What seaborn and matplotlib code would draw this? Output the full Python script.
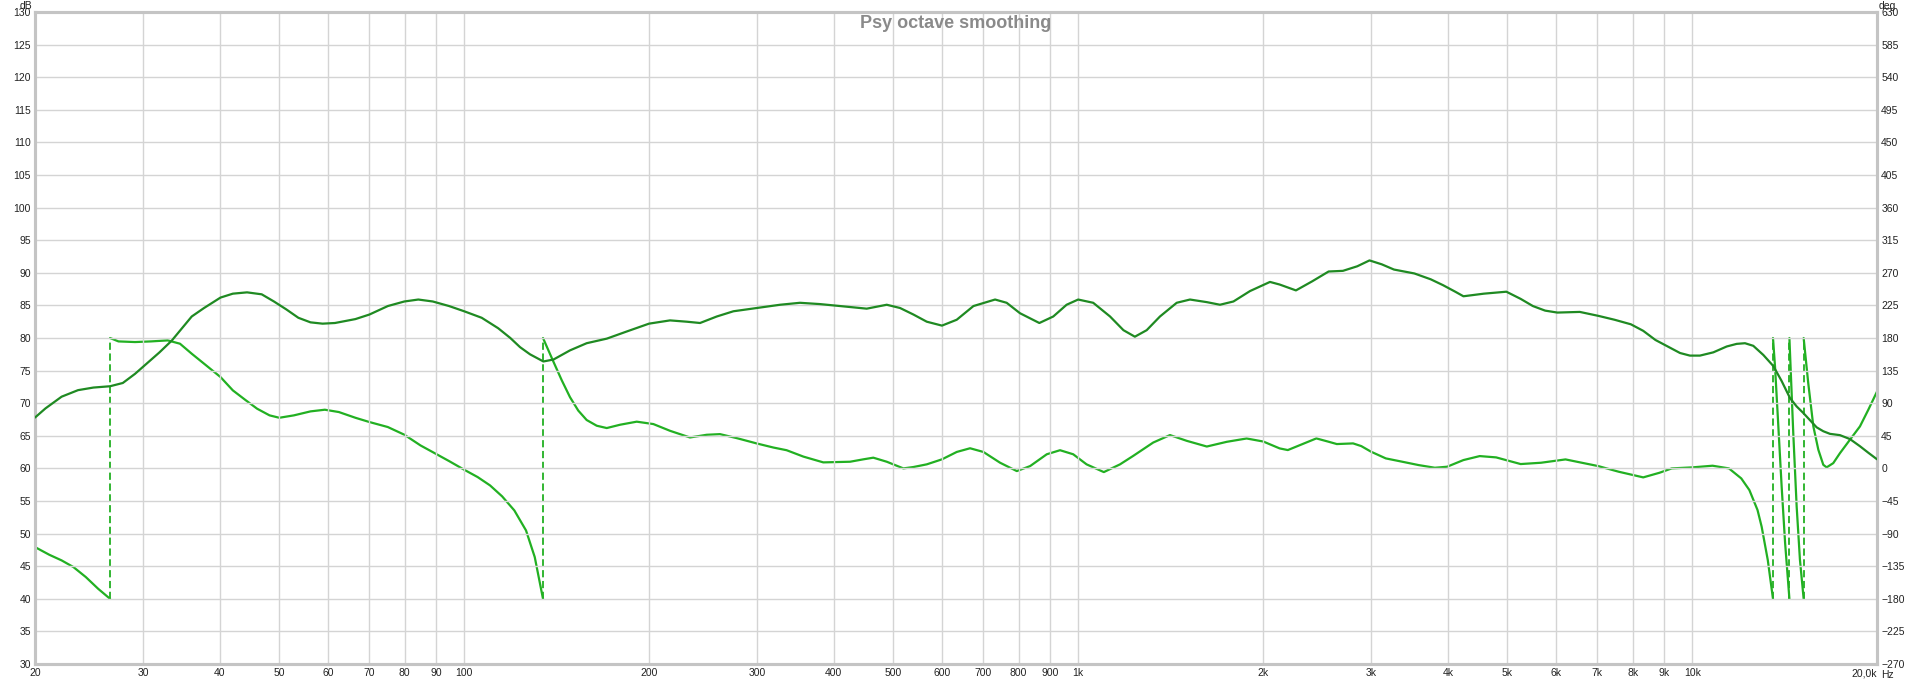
import numpy as np
import pandas as pd
import matplotlib
matplotlib.use("Agg")
import matplotlib.pyplot as plt
import seaborn as sns

# SPL curve (dB)
spl_freq = [20, 20.8, 22.1, 23.5, 24.9, 26.5, 27.8, 29.1, 30, 31.9, 33.4, 36.0, 37.7, 40.1,
            42.0, 44.3, 46.8, 49.0, 51.3, 53.7, 56.2, 58.8, 61.6, 66.5, 70.1, 75.1, 79.9,
            84.2, 88.9, 94.5, 100, 106.8, 113.6, 118.9, 123.3, 128.0, 134.6, 139.8, 148.7,
            158.3, 170.7, 184.0, 200, 216.4, 230.4, 242.2, 257.9, 274.5, 300, 327, 352.3,
            379.9, 400, 430.5, 452.5, 487.8, 512.8, 539.1, 566.8, 600, 634.2, 675.2, 732.3,
            764.8, 804, 864.5, 910.9, 957.6, 1000, 1058, 1127, 1185, 1237, 1293, 1359, 1447,
            1521, 1620, 1702, 1790, 1905, 2053, 2129, 2263, 2406, 2558, 2699, 2848, 2982,
            3122, 3268, 3528, 3752, 3929, 4113, 4241, 4579, 4982, 5256, 5503, 5761, 6032,
            6561, 7031, 7474, 7947, 8323, 8712, 9204, 9554, 9916, 10296, 10826, 11384,
            11818, 12191, 12576, 13058, 13557, 13987, 14430, 14797, 15170, 15555, 15948,
            16351, 16766, 17405, 18071, 18762, 19360, 20000]
spl_db = [67.8, 69.2, 71.0, 72.0, 72.4, 72.6, 73.1, 74.5, 75.6, 77.8, 79.6, 83.3, 84.6, 86.2,
          86.8, 87.0, 86.7, 85.6, 84.4, 83.1, 82.4, 82.2, 82.3, 82.9, 83.6, 84.9, 85.6,
          85.9, 85.6, 84.9, 84.1, 83.1, 81.5, 80.0, 78.6, 77.5, 76.4, 76.7, 78.1,
          79.2, 79.9, 81.0, 82.2, 82.7, 82.5, 82.3, 83.3, 84.1, 84.6, 85.1, 85.4,
          85.2, 85.0, 84.7, 84.5, 85.1, 84.6, 83.6, 82.5, 81.9, 82.8, 84.9, 85.9,
          85.4, 83.8, 82.3, 83.3, 85.1, 85.9, 85.4, 83.3, 81.2, 80.2, 81.2, 83.3, 85.4,
          85.9, 85.5, 85.1, 85.6, 87.2, 88.6, 88.2, 87.3, 88.7, 90.2, 90.3, 91.0, 91.9,
          91.3, 90.5, 89.9, 89.0, 88.1, 87.1, 86.4, 86.8, 87.1, 86.0, 84.9, 84.2, 83.9,
          84.0, 83.4, 82.8, 82.1, 81.1, 79.7, 78.5, 77.7, 77.3, 77.3, 77.8, 78.7,
          79.1, 79.2, 78.8, 77.4, 75.7, 73.4, 70.8, 69.5, 68.5, 67.4, 66.3,
          65.7, 65.3, 65.1, 64.5, 63.4, 62.4, 61.4]

# phase curve (deg), wrapped to +-180 as shown (wrap = same freq twice)
phase_freq = [20, 21.1, 22.1, 23.1, 24.2, 25.34, 26.5,
              26.5, 27.35, 29.1, 30.9, 32.9, 34.45, 36.0, 38.0, 40.1, 42.0, 43.97, 46.0, 48.2,
              50.0, 52.8, 56.2, 59.3, 62.5, 66.5, 70.1, 75.1, 79.9, 84.9, 90.3, 94.5, 100,
              105.2, 110.2, 115.3, 120.7, 126.1, 130.3, 134.4,
              134.4, 137.1, 139.8, 144.2, 148.7, 153.4, 158.3, 164.4, 170.7, 179.5, 191.0,
              203.3, 216.4, 233.2, 248.3, 261, 277.9, 300, 318.9, 335.1, 356.8, 384.5, 425.1,
              446.7, 463.8, 487.8, 519.2, 539.1, 566.8, 600, 634.2, 666.7, 700.9, 745.9,
              794.4, 835.1, 888.9, 934.3, 981.6, 1032, 1101, 1170, 1229, 1325, 1411, 1502,
              1620, 1746, 1881, 2002, 2129, 2195, 2298, 2443, 2558, 2638, 2804, 2891, 3000,
              3170, 3372, 3584, 3810, 3989, 4241, 4508, 4794, 5019, 5256, 5672, 6219, 6612,
              7031, 7592, 8323, 8848, 9264, 10000, 10795, 11478, 12021, 12393, 12778, 12977,
              13279, 13540,
              13540, 13643, 13815, 13987, 14170, 14400,
              14400, 14610, 14797, 14980, 15190,
              15190, 15454, 15753, 16050, 16351, 16557, 16975, 17405, 18071, 18762, 19360,
              20000]
phase_deg = [-108.6, -119.2, -127, -136.2, -150, -166.1, -180,
             180, 175.3, 174.4, 175.3, 176.7, 172.1, 158.3, 142.2, 126.1, 107.7, 94.8, 82.4, 73.2,
             69.9, 73.2, 78.7, 81.0, 77.8, 69.9, 64.0, 57.1, 46.5, 31.7, 19.3, 10.1, -1.8,
             -12.0, -23.5, -38.6, -58.0, -85.6, -122.4, -180,
             180, 163.3, 147, 121.6, 98.4, 79.8, 66.8, 58.9, 55.7, 60.3, 64.5,
             61.2, 51.9, 42.7, 46.4, 47.3, 41.8, 34.3, 28.8, 25.1, 16.3, 8.3, 9.2,
             12.5, 14.8, 9.2, 0, 1.9, 5.6, 12.5, 22.7, 27.8, 22.7, 7.9,
             -3.7, 3.2, 19.5, 25.1, 19.5, 5.6, -5.1, 5.6, 17.2, 35.7, 46, 38.1,
             30.2, 36.7, 41.3, 37.1, 27.6, 25.3, 32.2, 41.4, 36.8, 33.6, 34.5, 30.8, 23,
             13.8, 9.2, 4.6, 0.9, 2.3, 11.5, 17, 15.2, 10.6, 6, 7.8, 12.4, 7.8,
             3.2, -4.6, -12.4, -6, 0, 1.4, 3.7, 0, -13.8, -29.9, -57.5, -80.5,
             -126.6, -180,
             180, 140.9, 58, -24.9, -103, -180,
             180, 48.8, -52.5, -126, -180,
             180, 117.8, 58, 25.8, 5, 1.4, 7.3, 21, 39.6, 58, 81,
             106]

x_ticks = [20, 30, 40, 50, 60, 70, 80, 90, 100, 200, 300, 400, 500, 600, 700, 800, 900,
           1000, 2000, 3000, 4000, 5000, 6000, 7000, 8000, 9000, 10000, 20000]
x_labels = ['20', '30', '40', '50', '60', '70', '80', '90', '100', '200', '300', '400', '500',
            '600', '700', '800', '900', '1k', '2k', '3k', '4k', '5k', '6k', '7k', '8k', '9k',
            '10k', '20,0k']
db_ticks = list(range(30, 131, 5))
deg_ticks = list(range(-270, 631, 45))

spl = pd.DataFrame({'freq': spl_freq, 'db': spl_db})
phase = pd.DataFrame({'freq': phase_freq, 'deg': phase_deg})
phase['seg'] = (phase['deg'].diff().abs() > 300).cumsum()

sns.set_theme(style='white')
plt.rcParams['font.family'] = ['Liberation Sans', 'DejaVu Sans']

spl_color = '#1f8a22'
phase_color = '#22b022'
grid_color = '#d4d4d4'
frame_color = '#c4c4c4'
text_color = '#222222'

fig = plt.figure(figsize=(19.2, 6.82), dpi=100)
ax = fig.add_axes([35 / 1920, 1 - 664 / 682, (1877 - 35) / 1920, (664 - 12) / 682])
ax2 = ax.twinx()

ax.set_xscale('log')
ax.set_xlim(20, 20000)
ax.set_ylim(30, 130)
ax2.set_ylim(-270, 630)

ax.set_xticks(x_ticks)
ax.set_xticklabels(x_labels)
ax.xaxis.set_minor_locator(matplotlib.ticker.NullLocator())
ax.set_yticks(db_ticks)
ax2.set_yticks(deg_ticks)
ax.grid(True, which='major', color=grid_color, lw=1.0)
ax.set_axisbelow(True)
ax.get_xticklabels()[-1].set_horizontalalignment('right')

for a in (ax, ax2):
    a.tick_params(length=0, labelsize=7.5, colors=text_color, pad=3)
    for s in a.spines.values():
        s.set_color(frame_color)
        s.set_linewidth(2.2)

# phase wraps: dashed jumps between consecutive segments
for s in sorted(phase['seg'].unique())[1:]:
    first = phase[phase['seg'] == s].iloc[0]
    prev = phase[phase['seg'] == s - 1].iloc[-1]
    ax2.plot([prev['freq'], first['freq']], [prev['deg'], first['deg']],
             color=phase_color, lw=1.3, ls=(0, (4, 2)), zorder=2)

sns.lineplot(data=phase, x='freq', y='deg', units='seg', estimator=None,
             color=phase_color, lw=1.6, ax=ax2, zorder=3)
sns.lineplot(data=spl, x='freq', y='db', color=spl_color, lw=1.6, ax=ax, zorder=4)
ax.set_zorder(ax2.get_zorder() + 1)
ax.patch.set_visible(False)
ax2.set_ylabel('')
ax.set_xlabel('')
ax.set_ylabel('')

ax.set_title('Psy octave smoothing', fontsize=13, fontweight='bold', color='#8a8a8a',
             y=0.983, pad=0, va='center')
fig.text(20 / 1920, 1 - 6 / 682, 'dB', fontsize=7.5, color=text_color, va='center')
fig.text(1879 / 1920, 1 - 6 / 682, 'deg', fontsize=7.5, color=text_color, va='center')
fig.text(1881 / 1920, 1 - 675 / 682, 'Hz', fontsize=7.5, color=text_color, va='center')

fig.savefig('out.png', dpi=100, facecolor='white')
